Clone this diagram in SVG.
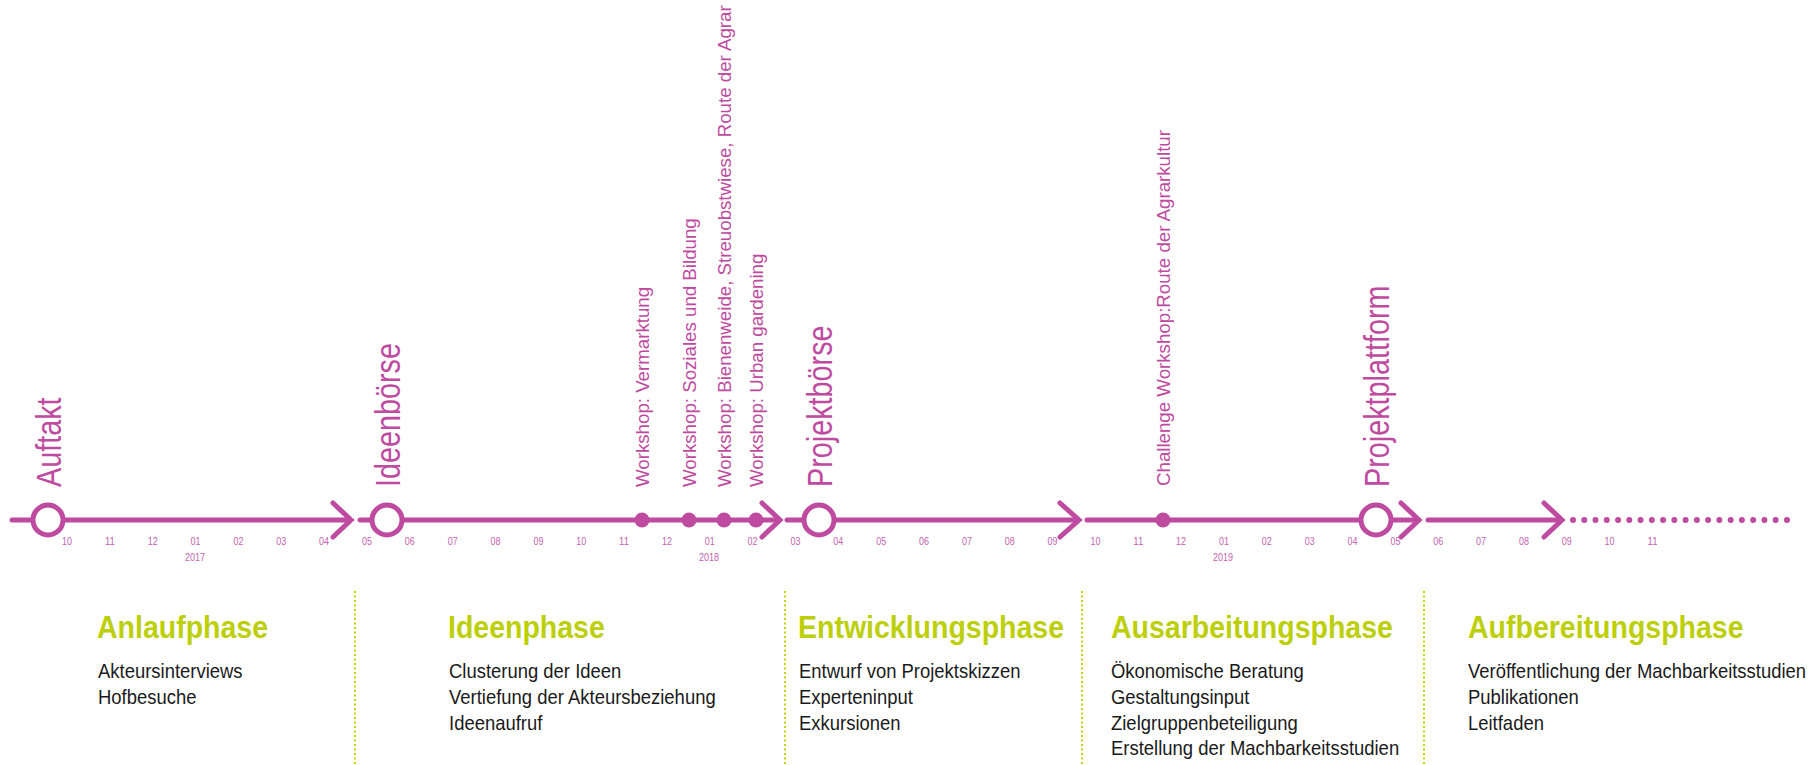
<svg xmlns="http://www.w3.org/2000/svg" width="1818" height="765" viewBox="0 0 1818 765">
<style>
.ln{stroke:#be4ba0;stroke-width:5;fill:none;stroke-linecap:round}
.ar{stroke:#be4ba0;stroke-width:5;fill:none;stroke-linecap:round;stroke-linejoin:miter}
.ms{stroke:#be4ba0;stroke-width:5;fill:#fff}
.dot{fill:#be4ba0}
.big{font-family:"Liberation Sans",Arial,sans-serif;font-size:36px;fill:#be4ba0}
.ws{font-family:"Liberation Sans",Arial,sans-serif;font-size:18.7px;fill:#be4ba0}
.mo{font-family:"Liberation Sans",Arial,sans-serif;font-size:11.5px;fill:#c463b0;text-anchor:middle}
.yr{font-family:"Liberation Sans",Arial,sans-serif;font-size:11px;fill:#c463b0;text-anchor:middle}
.hd{font-family:"Liberation Sans",Arial,sans-serif;font-size:31px;font-weight:bold;fill:#bccf0a}
.bd{font-family:"Liberation Sans",Arial,sans-serif;font-size:20.5px;fill:#1a1a1a}
.sep{stroke:#c4d20a;stroke-width:2;stroke-dasharray:2 2.5;fill:none}
</style>

<g id="connectors">
  <line class="ln" x1="12" y1="520" x2="349" y2="520"/>
  <polyline class="ar" points="333,503 351,520 333,537"/>
  <line class="ln" x1="360" y1="520" x2="778" y2="520"/>
  <polyline class="ar" points="762,503 780,520 762,537"/>
  <line class="ln" x1="787" y1="520" x2="1077" y2="520"/>
  <polyline class="ar" points="1060,503 1079,520 1060,537"/>
  <line class="ln" x1="1087" y1="520" x2="1417" y2="520"/>
  <polyline class="ar" points="1401,503 1419,520 1401,537"/>
  <line class="ln" x1="1428" y1="520" x2="1560" y2="520"/>
  <polyline class="ar" points="1544,503 1562,520 1544,537"/>
  <line class="ln" x1="1573" y1="520" x2="1788" y2="520" style="stroke-width:6;stroke-dasharray:0 11.26"/>
</g>

<g id="auftakt">
  <circle class="ms" cx="48" cy="520" r="15"/>
  <text class="big" transform="translate(61,487) rotate(-90) scale(0.8,1)">Auftakt</text>
</g>
<g id="ideenboerse">
  <circle class="ms" cx="387" cy="520" r="15"/>
  <text class="big" transform="translate(400,487) rotate(-90) scale(0.8,1)">Ideenbörse</text>
</g>
<g id="ws-vermarktung">
  <circle class="dot" cx="642" cy="520" r="7.5"/>
  <text class="ws" transform="translate(648.5,487) rotate(-90)">Workshop: Vermarktung</text>
</g>
<g id="ws-soziales">
  <circle class="dot" cx="689" cy="520" r="7.5"/>
  <text class="ws" transform="translate(695.5,487) rotate(-90)">Workshop: Soziales und Bildung</text>
</g>
<g id="ws-bienenweide">
  <circle class="dot" cx="724" cy="520" r="7.5"/>
  <text class="ws" transform="translate(730.5,487) rotate(-90)">Workshop: Bienenweide, Streuobstwiese, Route der Agrar</text>
</g>
<g id="ws-urban">
  <circle class="dot" cx="756" cy="520" r="7.5"/>
  <text class="ws" transform="translate(762.5,487) rotate(-90)">Workshop: Urban gardening</text>
</g>
<g id="projektboerse">
  <circle class="ms" cx="819" cy="520" r="15"/>
  <text class="big" transform="translate(832,487) rotate(-90) scale(0.8,1)">Projektbörse</text>
</g>
<g id="challenge">
  <circle class="dot" cx="1163" cy="520" r="7.5"/>
  <text class="ws" transform="translate(1169.5,486) rotate(-90)">Challenge Workshop:Route der Agrarkultur</text>
</g>
<g id="projektplattform">
  <circle class="ms" cx="1376" cy="520" r="15"/>
  <text class="big" transform="translate(1389,487) rotate(-90) scale(0.8,1)">Projektplattform</text>
</g>

<g id="months">
  <text class="mo" x="67" y="545" textLength="10" lengthAdjust="spacingAndGlyphs">10</text>
  <text class="mo" x="109.9" y="545" textLength="10" lengthAdjust="spacingAndGlyphs">11</text>
  <text class="mo" x="152.7" y="545" textLength="10" lengthAdjust="spacingAndGlyphs">12</text>
  <text class="mo" x="195.6" y="545" textLength="10" lengthAdjust="spacingAndGlyphs">01</text>
  <text class="mo" x="238.4" y="545" textLength="10" lengthAdjust="spacingAndGlyphs">02</text>
  <text class="mo" x="281.3" y="545" textLength="10" lengthAdjust="spacingAndGlyphs">03</text>
  <text class="mo" x="324.1" y="545" textLength="10" lengthAdjust="spacingAndGlyphs">04</text>
  <text class="mo" x="367" y="545" textLength="10" lengthAdjust="spacingAndGlyphs">05</text>
  <text class="mo" x="409.8" y="545" textLength="10" lengthAdjust="spacingAndGlyphs">06</text>
  <text class="mo" x="452.7" y="545" textLength="10" lengthAdjust="spacingAndGlyphs">07</text>
  <text class="mo" x="495.5" y="545" textLength="10" lengthAdjust="spacingAndGlyphs">08</text>
  <text class="mo" x="538.4" y="545" textLength="10" lengthAdjust="spacingAndGlyphs">09</text>
  <text class="mo" x="581.2" y="545" textLength="10" lengthAdjust="spacingAndGlyphs">10</text>
  <text class="mo" x="624.1" y="545" textLength="10" lengthAdjust="spacingAndGlyphs">11</text>
  <text class="mo" x="666.9" y="545" textLength="10" lengthAdjust="spacingAndGlyphs">12</text>
  <text class="mo" x="709.8" y="545" textLength="10" lengthAdjust="spacingAndGlyphs">01</text>
  <text class="mo" x="752.6" y="545" textLength="10" lengthAdjust="spacingAndGlyphs">02</text>
  <text class="mo" x="795.5" y="545" textLength="10" lengthAdjust="spacingAndGlyphs">03</text>
  <text class="mo" x="838.3" y="545" textLength="10" lengthAdjust="spacingAndGlyphs">04</text>
  <text class="mo" x="881.2" y="545" textLength="10" lengthAdjust="spacingAndGlyphs">05</text>
  <text class="mo" x="924" y="545" textLength="10" lengthAdjust="spacingAndGlyphs">06</text>
  <text class="mo" x="966.9" y="545" textLength="10" lengthAdjust="spacingAndGlyphs">07</text>
  <text class="mo" x="1009.7" y="545" textLength="10" lengthAdjust="spacingAndGlyphs">08</text>
  <text class="mo" x="1052.6" y="545" textLength="10" lengthAdjust="spacingAndGlyphs">09</text>
  <text class="mo" x="1095.4" y="545" textLength="10" lengthAdjust="spacingAndGlyphs">10</text>
  <text class="mo" x="1138.3" y="545" textLength="10" lengthAdjust="spacingAndGlyphs">11</text>
  <text class="mo" x="1181.1" y="545" textLength="10" lengthAdjust="spacingAndGlyphs">12</text>
  <text class="mo" x="1224" y="545" textLength="10" lengthAdjust="spacingAndGlyphs">01</text>
  <text class="mo" x="1266.8" y="545" textLength="10" lengthAdjust="spacingAndGlyphs">02</text>
  <text class="mo" x="1309.7" y="545" textLength="10" lengthAdjust="spacingAndGlyphs">03</text>
  <text class="mo" x="1352.5" y="545" textLength="10" lengthAdjust="spacingAndGlyphs">04</text>
  <text class="mo" x="1395.4" y="545" textLength="10" lengthAdjust="spacingAndGlyphs">05</text>
  <text class="mo" x="1438.2" y="545" textLength="10" lengthAdjust="spacingAndGlyphs">06</text>
  <text class="mo" x="1481.1" y="545" textLength="10" lengthAdjust="spacingAndGlyphs">07</text>
  <text class="mo" x="1523.9" y="545" textLength="10" lengthAdjust="spacingAndGlyphs">08</text>
  <text class="mo" x="1566.8" y="545" textLength="10" lengthAdjust="spacingAndGlyphs">09</text>
  <text class="mo" x="1609.6" y="545" textLength="10" lengthAdjust="spacingAndGlyphs">10</text>
  <text class="mo" x="1652.5" y="545" textLength="10" lengthAdjust="spacingAndGlyphs">11</text>
  <text class="yr" x="195" y="561" textLength="20" lengthAdjust="spacingAndGlyphs">2017</text>
  <text class="yr" x="709" y="561" textLength="20" lengthAdjust="spacingAndGlyphs">2018</text>
  <text class="yr" x="1223" y="561" textLength="20" lengthAdjust="spacingAndGlyphs">2019</text>
</g>

<g id="separators">
  <line class="sep" x1="355" y1="591" x2="355" y2="765"/>
  <line class="sep" x1="785" y1="591" x2="785" y2="765"/>
  <line class="sep" x1="1082" y1="591" x2="1082" y2="765"/>
  <line class="sep" x1="1424" y1="591" x2="1424" y2="765"/>
</g>

<g id="anlaufphase">
  <text class="hd" transform="translate(97,638) scale(0.92,1)">Anlaufphase</text>
  <text class="bd" transform="translate(98,678) scale(0.9,1)">Akteursinterviews</text>
  <text class="bd" transform="translate(98,703.8) scale(0.9,1)">Hofbesuche</text>
</g>
<g id="ideenphase">
  <text class="hd" transform="translate(448,638) scale(0.92,1)">Ideenphase</text>
  <text class="bd" transform="translate(449,678) scale(0.9,1)">Clusterung der Ideen</text>
  <text class="bd" transform="translate(449,703.8) scale(0.9,1)">Vertiefung der Akteursbeziehung</text>
  <text class="bd" transform="translate(449,729.6) scale(0.9,1)">Ideenaufruf</text>
</g>
<g id="entwicklungsphase">
  <text class="hd" transform="translate(798,638) scale(0.92,1)">Entwicklungsphase</text>
  <text class="bd" transform="translate(799,678) scale(0.9,1)">Entwurf von Projektskizzen</text>
  <text class="bd" transform="translate(799,703.8) scale(0.9,1)">Experteninput</text>
  <text class="bd" transform="translate(799,729.6) scale(0.9,1)">Exkursionen</text>
</g>
<g id="ausarbeitungsphase">
  <text class="hd" transform="translate(1111,638) scale(0.92,1)">Ausarbeitungsphase</text>
  <text class="bd" transform="translate(1111,678) scale(0.9,1)">Ökonomische Beratung</text>
  <text class="bd" transform="translate(1111,703.8) scale(0.9,1)">Gestaltungsinput</text>
  <text class="bd" transform="translate(1111,729.6) scale(0.9,1)">Zielgruppenbeteiligung</text>
  <text class="bd" transform="translate(1111,755.4) scale(0.9,1)">Erstellung der Machbarkeitsstudien</text>
</g>
<g id="aufbereitungsphase">
  <text class="hd" transform="translate(1468,638) scale(0.92,1)">Aufbereitungsphase</text>
  <text class="bd" transform="translate(1468,678) scale(0.9,1)">Veröffentlichung der Machbarkeitsstudien</text>
  <text class="bd" transform="translate(1468,703.8) scale(0.9,1)">Publikationen</text>
  <text class="bd" transform="translate(1468,729.6) scale(0.9,1)">Leitfaden</text>
</g>
</svg>
